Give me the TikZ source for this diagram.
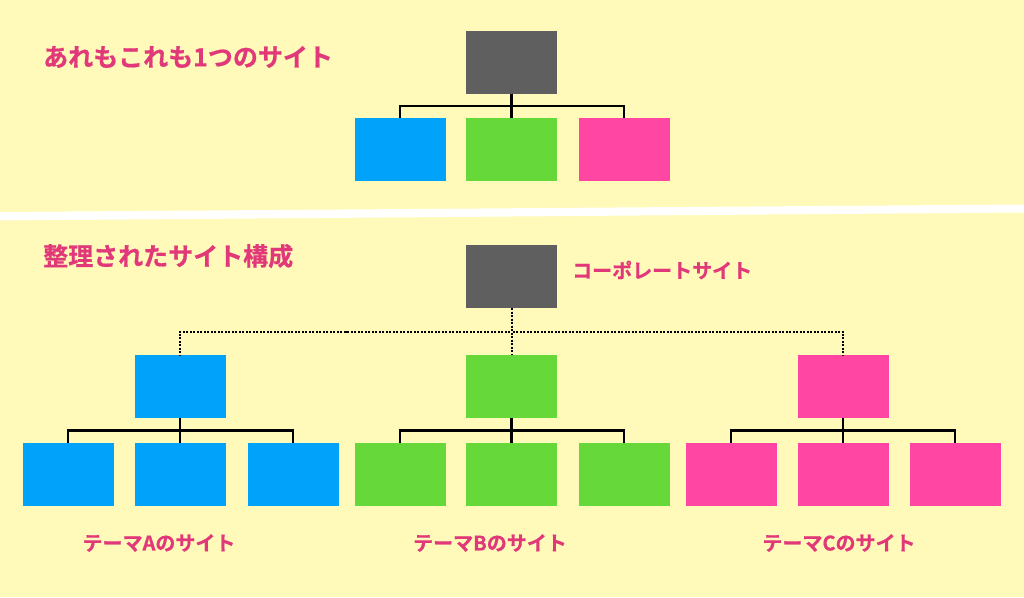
\documentclass[tikz,border=0pt]{standalone}
\usepackage{fontspec}
\newfontfamily\jp{Noto Sans CJK JP}[UprightFont={* Bold}, FakeBold=0.7]
\usetikzlibrary{calc}
\definecolor{bgyellow}{RGB}{255,250,185}
\definecolor{boxgray}{RGB}{95,95,95}
\definecolor{boxblue}{RGB}{0,162,250}
\definecolor{boxgreen}{RGB}{102,216,58}
\definecolor{boxpink}{RGB}{255,70,162}
\definecolor{txtpink}{RGB}{225,56,122}
\tikzset{
  site/.style={minimum width=91pt, minimum height=63pt, inner sep=0pt, draw=none, fill=#1},
  title/.style={anchor=west, inner sep=0pt, text=txtpink, font=\jp\fontsize{25}{25}\selectfont},
  label/.style={inner sep=0pt, text=txtpink, font=\jp\fontsize{20}{20}\selectfont},
  tree/.style={draw=black, line width=2.3pt},
  dottree/.style={draw=black, line width=2pt, dash pattern=on 2pt off 1.5pt}
}
\newcommand{\branch}[3][tree]{\draw[#1] (#2.south) |- ($(#2.south)!.5!(#3.north)$) -| (#3.north);}
\begin{document}
\begin{tikzpicture}[x=1pt, y=-1pt]
\fill[bgyellow] (0,0) rectangle (1024,597);
\useasboundingbox (0,0) rectangle (1024,597);
% white separator band
\fill[white] (0,212) -- (1024,204.5) -- (1024,212.5) -- (0,220.5) -- cycle;

% top section
\node[title] (t1) at (43,57) {あれもこれも1つのサイト};
\node[site=boxgray] (r1) at (511.5,62) {};
\node[site=boxblue] (a1) at (400,149.5) {};
\node[site=boxgreen] (b1) at (511.5,149.5) {};
\node[site=boxpink] (c1) at (624,149.5) {};
\branch{r1}{a1}
\branch{r1}{b1}
\branch{r1}{c1}

% bottom section
\node[title] (t2) at (43,256) {整理されたサイト構成};
\node[site=boxgray] (r2) at (511.5,276.5) {};
\node[label, anchor=west] (corp) at (572,270) {コーポレートサイト};

\node[site=boxblue] (ma) at (180,386.5) {};
\node[site=boxgreen] (mb) at (511.5,386.5) {};
\node[site=boxpink] (mc) at (843,386.5) {};
\branch[dottree]{r2}{ma}
\branch[dottree]{r2}{mb}
\branch[dottree]{r2}{mc}

\node[site=boxblue] (a21) at (68,474.5) {};
\node[site=boxblue] (a22) at (180,474.5) {};
\node[site=boxblue] (a23) at (293,474.5) {};
\node[site=boxgreen] (b21) at (400,474.5) {};
\node[site=boxgreen] (b22) at (511.5,474.5) {};
\node[site=boxgreen] (b23) at (624,474.5) {};
\node[site=boxpink] (c21) at (731,474.5) {};
\node[site=boxpink] (c22) at (843,474.5) {};
\node[site=boxpink] (c23) at (955,474.5) {};
\branch{ma}{a21}
\branch{ma}{a22}
\branch{ma}{a23}
\branch{mb}{b21}
\branch{mb}{b22}
\branch{mb}{b23}
\branch{mc}{c21}
\branch{mc}{c22}
\branch{mc}{c23}

\node[label] (la) at (159,543) {テーマAのサイト};
\node[label] (lb) at (490,543) {テーマBのサイト};
\node[label] (lc) at (839,543) {テーマCのサイト};
\end{tikzpicture}
\end{document}
